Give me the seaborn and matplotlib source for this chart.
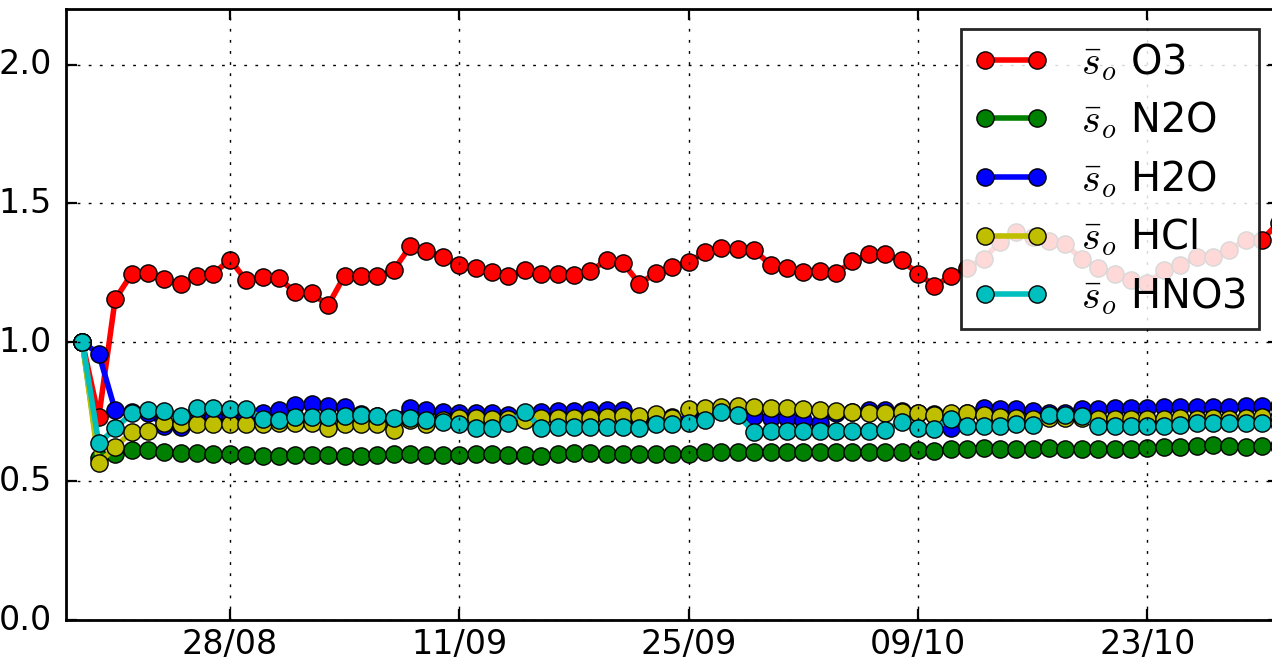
import matplotlib
matplotlib.use("Agg")
import matplotlib.pyplot as plt
import matplotlib.dates as mdates
import numpy as np
import pandas as pd
import seaborn as sns

# ---------------- data ----------------
dates = pd.date_range("2016-08-19", "2016-10-31", freq="D")

o3 = [1.0, 0.73, 1.155, 1.245, 1.25, 1.227, 1.211, 1.237, 1.247, 1.298, 1.223, 1.234, 1.23,
      1.18, 1.176, 1.133, 1.24, 1.24, 1.237, 1.26, 1.345, 1.33, 1.306, 1.28, 1.268, 1.253, 1.24,
      1.259, 1.245, 1.245, 1.243, 1.255, 1.297, 1.285, 1.211, 1.25, 1.271, 1.289, 1.324, 1.338,
      1.335, 1.332, 1.279,
      1.269, 1.252, 1.256, 1.249, 1.291, 1.317, 1.317, 1.295, 1.247, 1.204, 1.237, 1.269, 1.301,
      1.361, 1.397, 1.379, 1.364, 1.353, 1.299, 1.269, 1.247, 1.226, 1.212, 1.259, 1.277, 1.306,
      1.306, 1.333, 1.368, 1.37, 1.43]

n2o = [1.0, 0.585, 0.597, 0.611, 0.611, 0.605, 0.602, 0.600, 0.597, 0.597, 0.594, 0.59, 0.591,
       0.594, 0.594, 0.594, 0.59, 0.591, 0.594, 0.597, 0.597, 0.594, 0.594, 0.594, 0.596, 0.596,
       0.594, 0.594, 0.59, 0.596, 0.601, 0.601, 0.599, 0.597, 0.597, 0.597, 0.597, 0.599, 0.604,
       0.605, 0.605, 0.605, 0.605,
       0.605, 0.605, 0.605, 0.605, 0.605, 0.604, 0.605, 0.605, 0.611, 0.609, 0.614, 0.617, 0.62,
       0.617, 0.617, 0.617, 0.62, 0.617, 0.614, 0.614, 0.615, 0.617, 0.62, 0.622, 0.624, 0.628,
       0.63, 0.628, 0.624, 0.626, 0.627]

h2o = [1.0, 0.959, 0.755, 0.75, 0.745, 0.70, 0.695, 0.72, 0.73, 0.73, 0.735, 0.744, 0.755,
       0.773, 0.777, 0.77, 0.767, 0.74, 0.735, 0.725, 0.762, 0.755, 0.75, 0.744, 0.744, 0.744,
       0.737, 0.735, 0.749, 0.753, 0.753, 0.755, 0.755, 0.755, 0.72, 0.73, 0.73, 0.73, 0.74,
       0.755, 0.755, 0.735, 0.727,
       0.727, 0.72, 0.71, 0.745, 0.75, 0.755, 0.755, 0.752, 0.745, 0.74, 0.69, 0.744, 0.762,
       0.76, 0.758, 0.752, 0.745, 0.745, 0.758, 0.76, 0.762, 0.762, 0.762, 0.767, 0.767, 0.767,
       0.767, 0.767, 0.77, 0.77, 0.77]

hcl = [1.0, 0.564, 0.623, 0.677, 0.681, 0.71, 0.706, 0.706, 0.706, 0.706, 0.706, 0.706, 0.708,
       0.708, 0.708, 0.693, 0.706, 0.706, 0.706, 0.683, 0.72, 0.706, 0.72, 0.729, 0.727, 0.725,
       0.725, 0.72, 0.727, 0.727, 0.727, 0.729, 0.731, 0.733, 0.733, 0.743, 0.727, 0.758, 0.762,
       0.767, 0.77, 0.766, 0.762,
       0.762, 0.758, 0.755, 0.753, 0.749, 0.746, 0.746, 0.749, 0.744, 0.737, 0.744, 0.744, 0.737,
       0.731, 0.729, 0.725, 0.729, 0.729, 0.729, 0.725, 0.725, 0.725, 0.725, 0.725, 0.729, 0.725,
       0.729, 0.725, 0.729, 0.731, 0.731]

hno3 = [1.0, 0.636, 0.69, 0.744, 0.755, 0.752, 0.734, 0.765, 0.762, 0.759, 0.76, 0.725, 0.72,
        0.731, 0.731, 0.731, 0.734, 0.737, 0.734, 0.729, 0.726, 0.72, 0.714, 0.707, 0.693, 0.69,
        0.711, 0.749, 0.693, 0.695, 0.695, 0.695, 0.695, 0.695, 0.69, 0.705, 0.705, 0.711, 0.72,
        0.749, 0.737, 0.677, 0.68,
        0.68, 0.68, 0.68, 0.68, 0.68, 0.68, 0.685, 0.713, 0.693, 0.689, 0.725, 0.697, 0.697,
        0.7, 0.705, 0.703, 0.737, 0.737, 0.733, 0.697, 0.697, 0.7, 0.7, 0.7, 0.703, 0.708,
        0.711, 0.708, 0.711, 0.708, 0.708]

species = ["O3", "N2O", "H2O", "HCl", "HNO3"]
series = [o3, n2o, h2o, hcl, hno3]
colors = ["#ff0000", "#008000", "#0000ff", "#bfbf00", "#00bfbf"]

tick_dates = pd.to_datetime(["2016-08-28", "2016-09-11", "2016-09-25", "2016-10-09", "2016-10-23"])
yticks = [0.0, 0.5, 1.0, 1.5, 2.0]

# ---------------- style ----------------
plt.style.use("classic")
plt.rcParams.update({
    "font.family": ["DejaVu Sans"],
    "font.size": 12,
    "mathtext.fontset": "cm",
    "figure.facecolor": "white",
    "savefig.facecolor": "white",
    "lines.scale_dashes": False,
})

W, H = 1272, 659
fig = plt.figure(figsize=(W / 200, H / 200), dpi=200)
ax = fig.add_axes([66 / W, 39 / H, (1278.5 - 66) / W, 611 / H])

for name, vals, col in zip(species, series, colors):
    df = pd.DataFrame({"date": dates, "value": vals})
    sns.lineplot(data=df, x="date", y="value", ax=ax, color=col, linewidth=2.0,
                 marker="o", markersize=6.2, markeredgecolor="k", markeredgewidth=0.5,
                 label=r"$\bar{s}_o$ " + name, legend=False)

ax.set_xlim(pd.Timestamp("2016-08-18"), pd.Timestamp("2016-10-31"))
ax.set_ylim(0, 2.2)
ax.set_yticks(yticks)
ax.set_xticks(tick_dates)
ax.xaxis.set_major_formatter(mdates.DateFormatter("%d/%m"))
ax.set_xlabel("")
ax.set_ylabel("")
ax.grid(True, color="k", linestyle=(0, (1, 3)), linewidth=0.5)
ax.tick_params(which="major", direction="in", length=4, width=0.8, top=True, right=True)
ax.tick_params(axis="y", pad=5)
ax.tick_params(axis="x", pad=3)
for sp in ax.spines.values():
    sp.set_linewidth(1.0)

leg = ax.legend(loc="upper right", numpoints=2, handlelength=1.9, handletextpad=0.8,
                framealpha=0.85, fancybox=False, edgecolor="k", fontsize="large",
                borderaxespad=0.5, labelspacing=0.42, borderpad=0.3)
leg.get_frame().set_linewidth(1.0)

fig.savefig("out.png", dpi=200)
